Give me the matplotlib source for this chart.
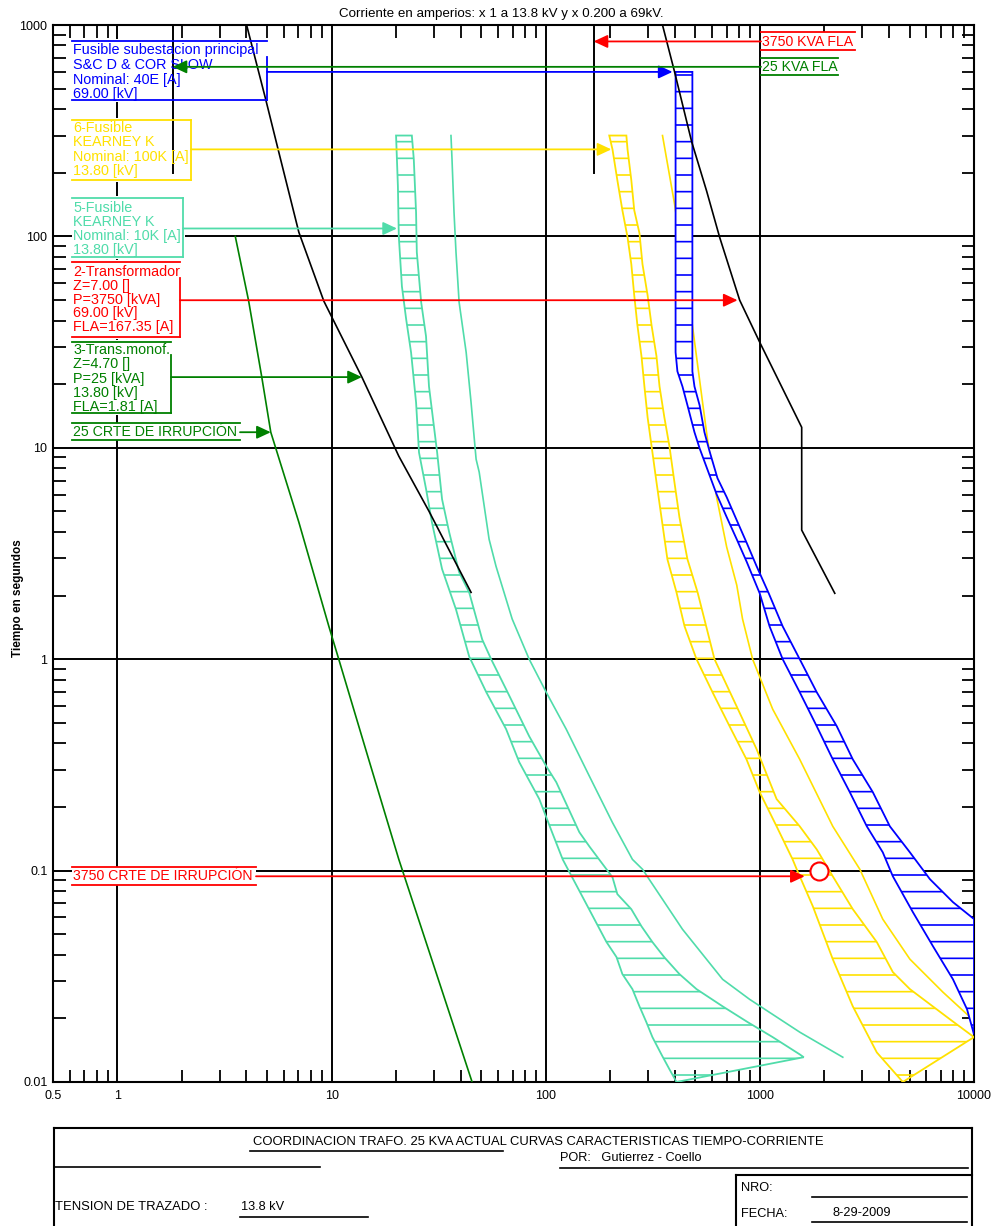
import matplotlib
matplotlib.use('Agg')
import matplotlib.pyplot as plt
from matplotlib.patches import Rectangle
from matplotlib.lines import Line2D
from matplotlib.ticker import LogLocator, NullFormatter

plt.rcParams['font.family'] = ['Liberation Sans', 'DejaVu Sans']
plt.rcParams['hatch.linewidth'] = 1.2

# colores
BLUE = '#0000ff'
TEAL = '#50dcaa'
YELLOW = '#ffe100'
RED = '#ff0000'
GREEN = '#008000'

# ejes
x_ticks = [0.5, 1, 10, 100, 1000, 10000]
x_tick_labels = ['0.5', '1', '10', '100', '1000', '10000']
y_ticks = [0.01, 0.1, 1, 10, 100, 1000]
y_tick_labels = ['0.01', '0.1', '1', '10', '100', '1000']

# 5-Fusible KEARNEY K 10K : minimo de fusion / despeje total / curva aux
k10_mm_i = [20.0, 20.4, 20.6, 21.3, 22.3, 23.5, 24.8, 25.6, 27.6, 29.4, 32.8, 38.1, 43.9, 52.7,
            65.3, 75.2, 93.3, 107, 120, 192, 214, 228, 254, 274, 295, 315, 347, 378, 408]
k10_mm_t = [300, 173, 100, 58, 40.5, 28.3, 16.4, 9.5, 6.4, 4.45, 2.67, 1.72, 1.03, 0.70,
            0.467, 0.326, 0.218, 0.152, 0.113, 0.046, 0.039, 0.0324, 0.0275, 0.0228, 0.0192,
            0.0163, 0.0135, 0.0115, 0.01]
k10_tc_i = [23.7, 24.2, 24.8, 25.0, 26.2, 27.6, 28.5, 31.1, 32.8, 35.4, 39.4, 43.9, 50.5, 55.6,
            65.3, 83.7, 100.5, 112, 143.5, 160, 205, 216, 251, 280, 315, 358, 421, 506, 670,
            877, 1148, 1537, 1603]
k10_tc_t = [300, 232, 130, 84.2, 48.8, 33.7, 19.5, 9.53, 5.71, 3.99, 2.58, 2.07, 1.24, 1.0,
            0.721, 0.432, 0.312, 0.262, 0.152, 0.130, 0.093, 0.0774, 0.0657, 0.0545, 0.0459,
            0.0389, 0.0324, 0.0275, 0.0228, 0.0192, 0.0163, 0.0135, 0.0131]
k10_aux_i = [36.1, 36.5, 37.3, 38.1, 39.4, 42.5, 44.8, 47.3, 48.9, 54.4, 58.6, 69.7, 83.7, 100.5,
             124.6, 159.8, 204.8, 254, 283, 435, 670, 896, 1537, 2439]
k10_aux_t = [300, 232, 130, 84.2, 48.8, 28.3, 16.4, 8.83, 7.67, 3.69, 2.75, 1.55, 1.0, 0.698,
             0.467, 0.280, 0.169, 0.113, 0.1015, 0.0528, 0.0306, 0.0246, 0.0172, 0.0131]

# 6-Fusible KEARNEY K 100K
k100_mm_i = [198, 205, 216, 228, 241, 251, 259, 268, 280, 289, 299, 312, 329, 347, 370, 408, 445,
             506, 601, 722, 866, 998, 1197, 1422, 1486, 1766, 2190, 2716, 3517, 4653]
k100_mm_t = [300, 258, 184.5, 133, 99.1, 73.9, 52.7, 38.0, 27.1, 19.5, 13.95, 10.2, 6.88, 4.70,
             2.97, 2.07, 1.43, 1.0, 0.698, 0.482, 0.336, 0.235, 0.162, 0.113, 0.1015, 0.0679,
             0.0381, 0.0228, 0.0138, 0.01]
k100_tc_i = [238, 241, 251, 259, 274, 283, 299, 312, 329, 340, 358, 378, 399, 421, 459, 512, 614,
             778, 966, 1197, 1535, 1843, 2190, 2716, 3517, 4178, 5020, 7720, 10000]
k100_tc_t = [300, 258, 184.5, 133, 103.5, 73.9, 52.7, 38.0, 27.1, 19.5, 13.95, 10.2, 6.88, 4.70,
             2.97, 2.07, 1.0, 0.600, 0.375, 0.218, 0.162, 0.126, 0.094, 0.0657, 0.0459, 0.0331,
             0.0275, 0.0198, 0.0163]
k100_aux_i = [351, 399, 484, 540, 570, 628, 700, 780, 830, 925, 1148, 1535, 2190, 2929, 3750,
              5020, 7162, 10000]
k100_aux_t = [300, 143.6, 38.0, 16.4, 10.9, 5.84, 3.39, 2.24, 1.55, 1.0, 0.580, 0.336, 0.162,
              0.1015, 0.0589, 0.0381, 0.0266, 0.0195]

# Fusible subestacion principal 40E (69 kV referido)
e40_mm_i = [404, 404, 412, 435, 459, 495, 523, 564, 628, 700, 780, 869, 998, 1110, 1278, 1535,
            1843, 2190, 2630, 3158, 3750, 4178, 5183, 6430, 7977, 9276, 10000]
e40_mm_t = [600, 28.3, 23.0, 19.5, 15.9, 11.85, 9.95, 8.09, 6.03, 4.70, 3.69, 2.88, 2.05, 1.43,
            1.0, 0.698, 0.482, 0.336, 0.235, 0.162, 0.122, 0.094, 0.0636, 0.0439, 0.0306,
            0.0221, 0.0168]
e40_tc_i = [484, 484, 495, 523, 551, 582, 634, 700, 780, 869, 966, 1100, 1278, 1535, 1843, 2286,
            2716, 3369, 4046, 5020, 6224, 7977, 10000]
e40_tc_t = [600, 23.0, 19.5, 15.9, 11.85, 9.64, 7.18, 5.84, 4.54, 3.54, 2.75, 2.05, 1.43, 1.0,
            0.698, 0.482, 0.336, 0.235, 0.162, 0.122, 0.0911, 0.0709, 0.059]

# curvas de dano de transformadores
dmg25_i = [4.01, 4.92, 5.67, 7.03, 9.20, 13.85, 20.6, 28.5, 44.8]
dmg25_t = [1000, 446, 250, 104.7, 49.4, 21.6, 9.13, 5.01, 2.07]
dmg3750_i = [351, 399, 480, 564, 649, 805, 998, 1568, 1568, 2238]
dmg3750_t = [1000, 604, 281, 164, 99, 49.9, 31.6, 12.5, 4.08, 2.05]

# curva verde 25 kVA
g25_i = [3.55, 4.10, 4.72, 5.20, 7.03, 9.71, 10.8, 14.9, 20.6, 45.3]
g25_t = [100, 49.4, 21.6, 11.85, 4.45, 1.43, 1.0, 0.336, 0.113, 0.01]

# corrientes nominales (FLA)
fla_i = [1.81, 167.35]
fla_t = [1000, 200]

# punto de irrupcion 3750 kVA
inrush_i = [1884]
inrush_t = [0.1]

W, H = 993, 1226
L, R, T, B = 53, 974, 25, 1082

fig = plt.figure(figsize=(W / 100, H / 100), dpi=100)
ax = fig.add_axes([L / W, 1 - B / H, (R - L) / W, (B - T) / H])
ax.set_xscale('log')
ax.set_yscale('log')
ax.set_xlim(0.5, 10000)
ax.set_ylim(0.01, 1000)


def axp(px, py):
    return (px - L) / (R - L), (B - py) / (B - T)


def figp(px, py):
    return px / W, 1 - py / H


ax.set_xticks(x_ticks)
ax.set_xticklabels(x_tick_labels)
ax.set_yticks(y_ticks)
ax.set_yticklabels(y_tick_labels)
ax.xaxis.set_minor_locator(LogLocator(base=10, subs=range(2, 10), numticks=30))
ax.yaxis.set_minor_locator(LogLocator(base=10, subs=range(2, 10), numticks=30))
ax.xaxis.set_minor_formatter(NullFormatter())
ax.yaxis.set_minor_formatter(NullFormatter())
ax.tick_params(which='minor', direction='in', length=9, width=1.3, top=True, right=True)
ax.tick_params(which='major', length=0, labelsize=9)
ax.tick_params(axis='x', which='major', pad=6)
ax.tick_params(axis='y', which='major', pad=4)
ax.grid(which='major', color='black', lw=1.4)
ax.set_axisbelow(True)
for sp in ax.spines.values():
    sp.set_linewidth(1.5)

# bandas de fusibles con rayado horizontal
bands = [(k10_mm_i, k10_mm_t, k10_tc_i, k10_tc_t, TEAL, 'none'),
         (k100_mm_i, k100_mm_t, k100_tc_i, k100_tc_t, YELLOW, 'none'),
         (e40_mm_i, e40_mm_t, e40_tc_i, e40_tc_t, BLUE, 'white')]
for mi, mt, ti, tt, c, fc in bands:
    ax.fill(mi + ti[::-1], mt + tt[::-1], facecolor=fc, edgecolor=c, hatch='-', lw=1.3,
            zorder=3)

ax.plot(k10_aux_i, k10_aux_t, color=TEAL, lw=1.2, zorder=3)
ax.plot(k100_aux_i, k100_aux_t, color=YELLOW, lw=1.2, zorder=2.9)
ax.plot(dmg25_i, dmg25_t, color='black', lw=1.2, zorder=3.2)
ax.plot(dmg3750_i, dmg3750_t, color='black', lw=1.2, zorder=3.2)
ax.plot(g25_i, g25_t, color=GREEN, lw=1.2, zorder=3)
for fi in fla_i:
    ax.plot([fi, fi], fla_t, color='black', lw=1.4, zorder=3.2)
ax.plot(inrush_i, inrush_t, 'o', ms=13, mfc='white', mec=RED, mew=1.5, zorder=7)

ARROW = dict(arrowstyle='-|>,head_length=0.6,head_width=0.28', lw=1.3, mutation_scale=14,
             shrinkA=0, shrinkB=0)


def leader(x_start_px, target_i, target_t, color, z=6):
    xs, _ = axp(x_start_px, 0)
    ax.annotate('', xy=(target_i, target_t), xycoords='data', xytext=(xs, target_t),
                textcoords=ax.get_yaxis_transform(),
                arrowprops=dict(ARROW, color=color), zorder=z)


def hline(x0, x1, py, color):
    a, y = axp(x0, py)
    b, _ = axp(x1, py)
    ax.plot([a, b], [y, y], color=color, lw=1.3, transform=ax.transAxes, zorder=4,
            clip_on=False)


def white_box(x0, x1, top, bottom):
    a, yt = axp(x0, top)
    b, yb = axp(x1, bottom)
    ax.add_patch(Rectangle((a, yb), b - a, yt - yb, transform=ax.transAxes,
                           facecolor='white', edgecolor='none', zorder=2))


def multi_box(lines, color, x1, top, bottom, rv_top, first, dy, target):
    x0 = 72
    white_box(x0, x1 + 2, top - 2, bottom + 2)
    hline(x0, x1, top, color)
    hline(x0, x1, bottom, color)
    a, y1 = axp(x1, rv_top)
    _, y2 = axp(x1, bottom)
    ax.plot([a, a], [y1, y2], color=color, lw=1.3, transform=ax.transAxes, zorder=4)
    for k, s in enumerate(lines):
        tx, ty = axp(x0 + 1, first + k * dy)
        ax.text(tx, ty, s, color=color, fontsize=10.4, ha='left', va='center',
                transform=ax.transAxes, zorder=5)
    leader(x1, target[0], target[1], color)


def single_box(text, color, x0, x1, top, bottom, ty_px, target, from_left):
    white_box(x0, x1, top, bottom)
    hline(x0, x1, top, color)
    hline(x0, x1, bottom, color)
    tx, ty = axp(x0 + 1, ty_px)
    ax.text(tx, ty, text, color=color, fontsize=10.2, ha='left', va='center',
            transform=ax.transAxes, zorder=5)
    leader(x0 if from_left else x1, target[0], target[1], color)


multi_box(['Fusible subestacion principal', 'S&C D & COR SLOW', 'Nominal: 40E [A]', '69.00 [kV]'],
          BLUE, 267, 41, 100, 57, 50, 14.8, (391, 600))
multi_box(['6-Fusible', 'KEARNEY K', 'Nominal: 100K [A]', '13.80 [kV]'],
          YELLOW, 191, 120, 180, 120, 128, 14.3, (202.5, 258))
multi_box(['5-Fusible', 'KEARNEY K', 'Nominal: 10K [A]', '13.80 [kV]'],
          TEAL, 183, 198, 257, 198, 208, 14.0, (20.2, 109))
multi_box(['2-Transformador', 'Z=7.00 []', 'P=3750 [kVA]', '69.00 [kV]', 'FLA=167.35 [A]'],
          RED, 180, 262, 337, 278, 272, 13.8, (787, 49.9))
multi_box(['3-Trans.monof.', 'Z=4.70 []', 'P=25 [kVA]', '13.80 [kV]', 'FLA=1.81 [A]'],
          GREEN, 171, 342, 413, 355, 350, 14.25, (13.85, 21.6))

single_box('25 CRTE DE IRRUPCIÓN', GREEN, 72, 240, 423, 440, 432, (5.2, 11.85), False)
single_box('3750 CRTE DE IRRUPCIÓN', RED, 72, 256, 867, 885, 876, (1620, 0.094), False)
single_box('3750 KVA FLA', RED, 761, 855, 32, 50, 42, (167.35, 836), True)
single_box('25 KVA FLA', GREEN, 761, 838, 58, 75, 67, (1.81, 634), True)

# titulos
fig.text(*figp(501, 14), 'Corriente en amperios: x 1 a 13.8 kV y x 0.200 a 69kV.',
         fontsize=9.6, ha='center', va='center')
fig.text(*figp(18, 598), 'Tiempo en segundos', fontsize=8.5, rotation=90, ha='center',
         va='center', fontweight='bold')

# cuadro de rotulo
def fline(x0, y0, x1, y1, lw=1.2):
    a, b = figp(x0, y0)
    c, d = figp(x1, y1)
    fig.add_artist(Line2D([a, c], [b, d], color='black', lw=lw))


fline(54, 1128, 972, 1128, 1.5)
fline(54, 1128, 54, 1226, 1.5)
fline(972, 1128, 972, 1226, 1.5)
fline(250, 1151, 503, 1151)
fline(54, 1167, 320, 1167)
fline(560, 1168, 968, 1168)
fline(736, 1175, 972, 1175, 1.5)
fline(736, 1175, 736, 1226, 1.5)
fline(812, 1197, 967, 1197)
fline(812, 1222, 967, 1222)
fline(240, 1217, 368, 1217)

fig.text(*figp(538, 1142),
         'COORDINACION TRAFO. 25 KVA ACTUAL CURVAS CARACTERISTICAS TIEMPO-CORRIENTE',
         fontsize=9.4, ha='center', va='center')
fig.text(*figp(560, 1158), 'POR:   Gutierrez - Coello', fontsize=9.2, ha='left', va='center')
fig.text(*figp(741, 1188), 'NRO:', fontsize=9.2, ha='left', va='center')
fig.text(*figp(741, 1214), 'FECHA:', fontsize=9.2, ha='left', va='center')
fig.text(*figp(862, 1213), '8-29-2009', fontsize=9.2, ha='center', va='center')
fig.text(*figp(55, 1207), 'TENSION DE TRAZADO :', fontsize=9.4, ha='left', va='center')
fig.text(*figp(241, 1207), '13.8 kV', fontsize=9.2, ha='left', va='center')

fig.savefig('out.png', dpi=100, facecolor='white')
